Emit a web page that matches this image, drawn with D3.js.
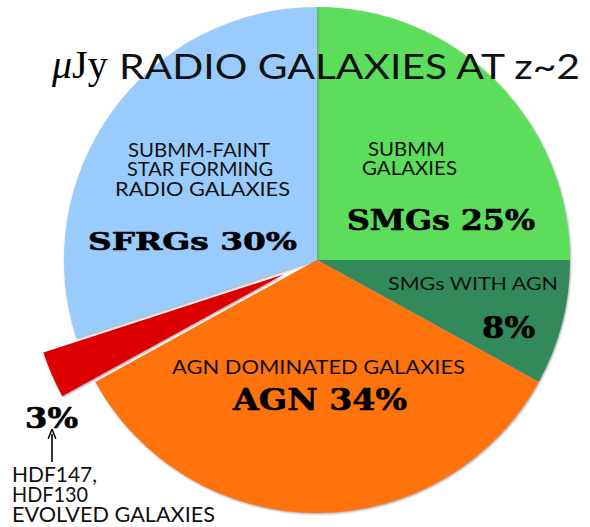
<!DOCTYPE html>
<html>
<head>
	<title>uJy Radio Galaxies</title>
	<script src="https://d3js.org/d3.v7.min.js"></script>
	<style type="text/css">
		body { margin: 0; background: #fff; }
		.thin { font-family: Lato, "Open Sans", sans-serif; font-weight: 400; fill: #111; }
		.heavy { font-family: "DejaVu Serif", serif; font-weight: bold; fill: #000; stroke: #000; stroke-width: 0.6px; }
	</style>
</head>
<body>
<div id="chart"></div>
<script type="text/javascript">
	// data
	var categories = ['SMGs', 'SMGs with AGN', 'AGN', 'Evolved', 'SFRGs'];
	var values = [25, 8, 34, 3, 30];
	var colors = ['#5cdd5c', '#328a5c', '#ff7308', '#dd0606', '#99ccfc'];
	var exploded = ['Evolved'];

	var width = 590,
		height = 527,
		radius = 253,
		cx = 317,
		cy = 260,
		explode = 36;

	var svg = d3.select('#chart')
		.append('svg')
		.attr('width', width)
		.attr('height', height);

	var defs = svg.append('defs');
	defs.append('filter')
		.attr('id', 'shade')
		.attr('x', '-10%').attr('y', '-10%')
		.attr('width', '120%').attr('height', '120%')
		.append('feDropShadow')
		.attr('dx', 0.8).attr('dy', 1)
		.attr('stdDeviation', 0.8)
		.attr('flood-color', '#777')
		.attr('flood-opacity', 0.7);

	var color = d3.scaleOrdinal().domain(categories).range(colors);

	var pie = d3.pie()
		.value(function(d, i) { return values[i]; })
		.sort(null);

	var arc = d3.arc()
		.innerRadius(0)
		.outerRadius(radius);

	var g = svg.append('g')
		.attr('transform', 'translate(' + cx + ',' + cy + ')');

	g.selectAll('path')
		.data(pie(categories))
		.enter()
		.append('path')
		.attr('d', arc)
		.attr('fill', function(d) { return color(d.data); })
		.attr('filter', 'url(#shade)')
		.attr('transform', function(d) {
			if (exploded.indexOf(d.data) < 0) return null;
			var a = (d.startAngle + d.endAngle) / 2;
			return 'translate(' + (Math.sin(a) * explode) + ',' + (-Math.cos(a) * explode) + ')';
		});

	// title
	var title = svg.append('text')
		.attr('y', 78);
	title.append('tspan')
		.attr('x', 52)
		.style('font-family', '"Liberation Serif", serif')
		.style('font-size', '40px')
		.style('font-style', 'italic')
		.text('\u03bc');
	title.append('tspan')
		.style('font-family', '"Liberation Serif", serif')
		.style('font-size', '40px')
		.text('Jy');
	svg.append('text')
		.attr('class', 'thin')
		.attr('x', 119).attr('y', 79)
		.attr('textLength', 461)
		.attr('lengthAdjust', 'spacingAndGlyphs')
		.style('font-size', '35px')
		.text('RADIO GALAXIES AT z~2');

	// slice labels: [text, left x, baseline y, width, size, class]
	var labels = [
		['SUBMM-FAINT', 128, 157, 142, 20, 'thin'],
		['STAR FORMING', 127, 176, 146, 20, 'thin'],
		['RADIO GALAXIES', 115, 196, 175, 20, 'thin'],
		['SFRGs 30%', 88, 250, 209, 25, 'heavy'],
		['SUBMM', 368, 156, 77, 20, 'thin'],
		['GALAXIES', 362, 175, 95, 20, 'thin'],
		['SMGs 25%', 347, 230, 188, 27, 'heavy'],
		['SMGs WITH AGN', 388, 290, 170, 18, 'thin'],
		['8%', 482, 338, 53, 29, 'heavy'],
		['AGN DOMINATED GALAXIES', 172, 374, 293, 19, 'thin'],
		['AGN 34%', 233, 410, 174, 30, 'heavy'],
		['3%', 25, 428, 53, 27, 'heavy'],
		['HDF147,', 12, 482, 85, 21, 'thin'],
		['HDF130', 12, 502, 76, 21, 'thin'],
		['EVOLVED GALAXIES', 12, 522, 203, 21, 'thin']
	];

	svg.selectAll('text.lbl')
		.data(labels)
		.enter()
		.append('text')
		.attr('class', function(d) { return 'lbl ' + d[5]; })
		.attr('x', function(d) { return d[1]; })
		.attr('y', function(d) { return d[2]; })
		.attr('textLength', function(d) { return d[3]; })
		.attr('lengthAdjust', 'spacingAndGlyphs')
		.style('font-size', function(d) { return d[4] + 'px'; })
		.text(function(d) { return d[0]; });

	// arrow from note to 3%
	defs.append('marker')
		.attr('id', 'head')
		.attr('viewBox', '0 0 10 10')
		.attr('refX', 5).attr('refY', 5)
		.attr('markerWidth', 6).attr('markerHeight', 6)
		.attr('orient', 'auto')
		.append('path')
		.attr('d', 'M0,1 L10,5 L0,9')
		.attr('fill', 'none')
		.attr('stroke', '#000')
		.attr('stroke-width', 1.5);

	svg.append('line')
		.attr('x1', 52).attr('y1', 462)
		.attr('x2', 52).attr('y2', 434)
		.attr('stroke', '#000')
		.attr('stroke-width', 1.6)
		.attr('marker-end', 'url(#head)');
</script>
</body>
</html>
